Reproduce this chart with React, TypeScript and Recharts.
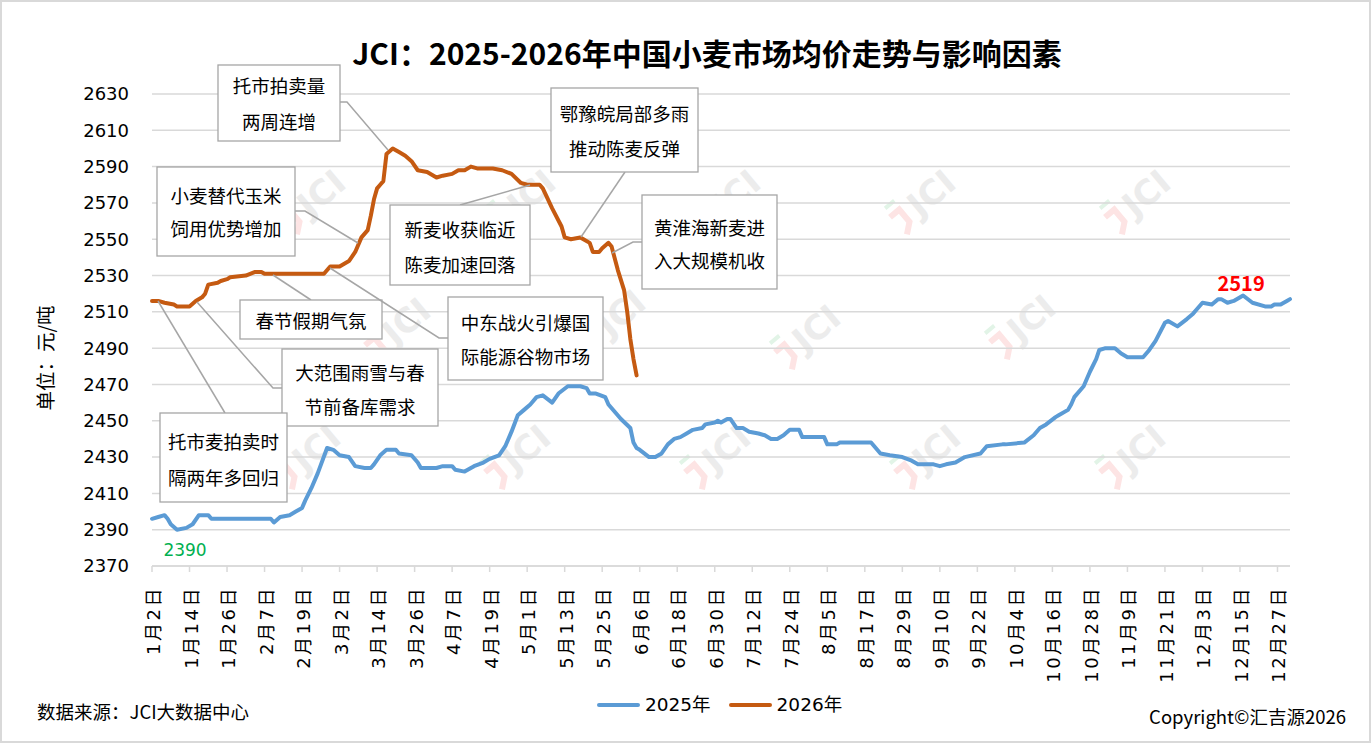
import React from 'react';
import { LineChart, Line, XAxis, YAxis, CartesianGrid, LabelList } from 'recharts';

document.body.style.margin = '0';

// 日期轴按闰年排布（含2月29日），1月2日为起点
const AXIS_YEAR = 2024;

const dates2025 = [
  '1-2', '1-4', '1-6', '1-7', '1-8', '1-10', '1-13', '1-15', '1-17', '1-20', '1-21',
  '2-9', '2-10', '2-12', '2-15', '2-17', '2-19', '2-20', '2-22', '2-24', '2-27', '2-29',
  '3-2', '3-5', '3-7', '3-10', '3-12', '3-13', '3-15', '3-17', '3-20', '3-21', '3-25', '3-27', '3-28',
  '4-2', '4-4', '4-7', '4-8', '4-11', '4-14', '4-17', '4-19', '4-22', '4-24', '4-26', '4-28', '4-30',
  '5-2', '5-4', '5-6', '5-9', '5-11', '5-14', '5-18', '5-20', '5-21', '5-23', '5-26', '5-27', '5-29', '5-31',
  '6-3', '6-4', '6-5', '6-6', '6-9', '6-11', '6-13', '6-15', '6-17', '6-19', '6-21', '6-23', '6-26', '6-27', '6-30',
  '7-1', '7-2', '7-4', '7-5', '7-7', '7-9', '7-11', '7-14', '7-16', '7-18', '7-20', '7-22', '7-24', '7-27', '7-28',
  '8-4', '8-5', '8-8', '8-9', '8-19', '8-22', '8-25', '8-29',
  '9-1', '9-3', '9-8', '9-10', '9-12', '9-15', '9-18', '9-23', '9-25', '9-30',
  '10-1', '10-7', '10-10', '10-12', '10-14', '10-17', '10-18', '10-21', '10-22', '10-23', '10-26', '10-28', '10-30', '10-31',
  '11-2', '11-5', '11-7', '11-9', '11-14', '11-16', '11-18', '11-21', '11-22', '11-25', '11-28', '11-30',
  '12-1', '12-3', '12-6', '12-8', '12-9', '12-11', '12-13', '12-16', '12-19', '12-23', '12-25', '12-26', '12-28', '12-30', '12-31',
];
const prices2025 = [
  2396, 2397, 2398, 2396, 2393, 2390, 2391, 2393, 2398, 2398, 2396,
  2396, 2394, 2397, 2398, 2400, 2402, 2406, 2413, 2421, 2435, 2434,
  2431, 2430, 2425, 2424, 2424, 2426, 2431, 2434, 2434, 2432, 2431, 2427, 2424,
  2424, 2425, 2425, 2423, 2422, 2425, 2427, 2429, 2431, 2436, 2444, 2453, 2456,
  2459, 2463, 2464, 2460, 2465, 2469, 2469, 2468, 2465, 2465, 2463, 2459, 2455, 2451,
  2446, 2438, 2435, 2434, 2430, 2430, 2432, 2437, 2440, 2441, 2443, 2445, 2446, 2448, 2449,
  2450, 2449, 2451, 2451, 2446, 2446, 2444, 2443, 2442, 2440, 2440, 2442, 2445, 2445, 2441,
  2441, 2437, 2437, 2438, 2438, 2432, 2431, 2430,
  2428, 2426, 2426, 2425, 2426, 2427, 2430, 2432, 2436, 2437,
  2437, 2438, 2442, 2446, 2448, 2452, 2453, 2456, 2459, 2463, 2469, 2477, 2484, 2489,
  2490, 2490, 2487, 2485, 2485, 2489, 2494, 2504, 2505, 2502, 2506, 2509,
  2511, 2515, 2514, 2517, 2517, 2515, 2516, 2519, 2515, 2513, 2513, 2514, 2514, 2516, 2517,
];

const dates2026 = [
  '1-2', '1-4', '1-6', '1-9', '1-10', '1-14', '1-16', '1-18', '1-19', '1-20', '1-23', '1-24', '1-26', '1-27',
  '2-1', '2-4', '2-6', '2-7', '2-26', '2-28',
  '3-2', '3-5', '3-7', '3-9', '3-11', '3-12', '3-13', '3-14', '3-15', '3-16', '3-17', '3-19', '3-21', '3-23', '3-25', '3-27', '3-30',
  '4-2', '4-4', '4-7', '4-9', '4-11', '4-13', '4-15', '4-20', '4-23', '4-26', '4-29',
  '5-1', '5-5', '5-6', '5-9', '5-12', '5-13', '5-15', '5-18', '5-19', '5-21', '5-22', '5-24', '5-25', '5-27', '5-28', '5-30',
  '6-1', '6-2', '6-3', '6-4', '6-5',
];
const prices2026 = [
  2516, 2516, 2515, 2514, 2513, 2513, 2516, 2518, 2520, 2525, 2526, 2527, 2528, 2529,
  2530, 2532, 2532, 2531, 2531, 2535,
  2535, 2538, 2543, 2551, 2555, 2563, 2572, 2578, 2580, 2582, 2597, 2600, 2598, 2596, 2593, 2588, 2587,
  2584, 2585, 2586, 2588, 2588, 2590, 2589, 2589, 2588, 2586, 2581,
  2580, 2580, 2578, 2567, 2557, 2551, 2550, 2551, 2550, 2548, 2543, 2543, 2545, 2548, 2546, 2533,
  2522, 2510, 2495, 2484, 2475,
];

const tickLabels = [
  '1月2日', '1月14日', '1月26日', '2月7日', '2月19日', '3月2日', '3月14日', '3月26日',
  '4月7日', '4月19日', '5月1日', '5月13日', '5月25日', '6月6日', '6月18日', '6月30日',
  '7月12日', '7月24日', '8月5日', '8月17日', '8月29日', '9月10日', '9月22日', '10月4日',
  '10月16日', '10月28日', '11月9日', '11月21日', '12月3日', '12月15日', '12月27日',
];
const yTicks = [2370, 2390, 2410, 2430, 2450, 2470, 2490, 2510, 2530, 2550, 2570, 2590, 2610, 2630];

const COLORS = {
  y2025: '#5b9bd5',
  y2026: '#c55a11',
  grid: '#d9d9d9',
  leader: '#a6a6a6',
  text: '#000000',
};

const CJK = '"Noto Sans CJK SC", sans-serif';
const NUM = '"DejaVu Sans", "Noto Sans CJK SC", sans-serif';

const toDay = (m: number, d: number) =>
  (Date.UTC(AXIS_YEAR, m - 1, d) - Date.UTC(AXIS_YEAR, 0, 2)) / 86400000;

const parseDash = (s: string) => {
  const [m, d] = s.split('-').map(Number);
  return toDay(m, d);
};

const tickDays = tickLabels.map((l) => {
  const m = l.match(/(\d+)月(\d+)日/)!;
  return toDay(Number(m[1]), Number(m[2]));
});

const series2025 = dates2025.map((d, i) => ({ day: parseDash(d), price: prices2025[i] }));
const series2026 = dates2026.map((d, i) => ({ day: parseDash(d), price: prices2026[i] }));

const maxPrice = Math.max(...prices2025);
const minPrice = Math.min(...prices2025);

const legendItems = [
  { name: '2025年', color: COLORS.y2025 },
  { name: '2026年', color: COLORS.y2026 },
];

// 注释框：位置为画布像素
const notes = [
  { x: 218, y: 65, w: 122, h: 76, lines: ['托市拍卖量', '两周连增'], ty: [85, 121], leader: [[340, 102], [347, 102], [388, 150]] },
  { x: 157, y: 167, w: 138, h: 89, lines: ['小麦替代玉米', '饲用优势增加'], ty: [195, 228], leader: [[295, 211], [305, 211], [358, 243]] },
  { x: 240, y: 300, w: 142, h: 39, lines: ['春节假期气氛'], ty: [320], leader: [[311, 300], [273, 275]] },
  { x: 390, y: 205, w: 140, h: 80, lines: ['新麦收获临近', '陈麦加速回落'], ty: [229, 264], leader: [[460, 205], [530, 185]] },
  { x: 448, y: 297, w: 155, h: 83, lines: ['中东战火引爆国', '际能源谷物市场'], ty: [322, 356], leader: [[448, 338], [439, 338], [330, 268]] },
  { x: 551, y: 88, w: 147, h: 84, lines: ['鄂豫皖局部多雨', '推动陈麦反弹'], ty: [113, 148], leader: [[625, 172], [581, 237]] },
  { x: 642, y: 195, w: 135, h: 94, lines: ['黄淮海新麦进', '入大规模机收'], ty: [227, 260], leader: [[642, 242], [633, 242], [612, 253]] },
  { x: 282, y: 349, w: 156, h: 77, lines: ['大范围雨雪与春', '节前备库需求'], ty: [372, 406], leader: [[282, 388], [273, 388], [197, 302]] },
  { x: 160, y: 413, w: 127, h: 89, lines: ['托市麦拍卖时', '隔两年多回归'], ty: [441, 477], leader: [[225, 413], [158, 301]] },
];

const watermarks = [
  [325, 190], [535, 190], [740, 190], [935, 190], [1150, 190],
  [410, 318], [625, 310], [820, 325], [1035, 315],
  [320, 445], [530, 445], [730, 445], [940, 445], [1145, 445],
];

const XTick = (props: any) => {
  const { x, y, payload } = props;
  const idx = tickDays.indexOf(payload.value);
  const ty = y + 12;
  return (
    <text
      x={x + 1.5}
      y={ty}
      transform={`rotate(-90, ${x + 1.5}, ${ty})`}
      textAnchor="end"
      dominantBaseline="central"
      fill={COLORS.text}
      fontSize={18}
      fontFamily={NUM}
      letterSpacing={2.5}
    >
      {idx >= 0 ? tickLabels[idx] : ''}
    </text>
  );
};

const ExtremeLabel = (props: any) => {
  const { x, y, value } = props;
  if (value === maxPrice) {
    return (
      <text x={x - 2} y={y - 13} textAnchor="middle" dominantBaseline="central"
        fill="#ff0000" fontWeight="bold" fontSize={20} fontFamily={CJK}>
        {value}
      </text>
    );
  }
  if (value === minPrice) {
    return (
      <text x={x + 8} y={y + 20} textAnchor="middle" dominantBaseline="central"
        fill="#00b050" fontSize={17} fontFamily={NUM}>
        {value}
      </text>
    );
  }
  return null;
};

const Watermark = ({ cx, cy }: { cx: number; cy: number }) => (
  <g transform={`translate(${cx}, ${cy}) rotate(-40)`}>
    <path d="M -52 -8 L -40 -8 L -40 8 L -50 16" stroke="#fde4e4" strokeWidth={6} fill="none" />
    <path d="M -50 -18 L -38 -18" stroke="#e2f4e7" strokeWidth={4} />
    <text x={-30} y={0} fontSize={34} fontWeight="bold" fill="#ececec"
      dominantBaseline="central" fontFamily='"DejaVu Sans", sans-serif'>
      JCI
    </text>
  </g>
);

const App = () => {
  return (
    <div style={{ position: 'relative', width: 1371, height: 743, background: '#fff', overflow: 'hidden' }}>
      <svg width={1371} height={743} style={{ position: 'absolute', left: 0, top: 0 }}>
        {watermarks.map(([cx, cy], i) => (
          <Watermark key={`wm-${i}`} cx={cx} cy={cy} />
        ))}
      </svg>

      <div style={{ position: 'absolute', left: 0, top: 0 }}>
        <LineChart width={1371} height={743} margin={{ top: 94, right: 81, bottom: 77, left: 0 }}>
          <CartesianGrid vertical={false} stroke={COLORS.grid} strokeWidth={1.5} />
          <XAxis
            type="number"
            dataKey="day"
            domain={[0, 364]}
            ticks={tickDays}
            interval={0}
            height={100}
            tick={<XTick />}
            tickSize={6}
            tickLine={{ stroke: COLORS.grid, strokeWidth: 1.5 }}
            axisLine={{ stroke: COLORS.grid, strokeWidth: 1.5 }}
          />
          <YAxis
            type="number"
            domain={[2370, 2630]}
            ticks={yTicks}
            interval={0}
            width={152}
            axisLine={false}
            tickLine={false}
            tickSize={0}
            tickMargin={23}
            tick={{ fill: COLORS.text, fontSize: 18, fontFamily: NUM }}
          />
          <Line
            data={series2025}
            dataKey="price"
            name="2025年"
            type="linear"
            stroke={COLORS.y2025}
            strokeWidth={4}
            strokeLinejoin="round"
            strokeLinecap="round"
            dot={false}
            activeDot={false}
            isAnimationActive={false}
          >
            <LabelList dataKey="price" content={ExtremeLabel} />
          </Line>
          <Line
            data={series2026}
            dataKey="price"
            name="2026年"
            type="linear"
            stroke={COLORS.y2026}
            strokeWidth={4}
            strokeLinejoin="round"
            strokeLinecap="round"
            dot={false}
            activeDot={false}
            isAnimationActive={false}
          />
        </LineChart>
      </div>

      <svg width={1371} height={743} style={{ position: 'absolute', left: 0, top: 0, pointerEvents: 'none' }}>
        <text x={707} y={52} textAnchor="middle" dominantBaseline="central" fontSize={30}
          fontWeight="bold" fontFamily={CJK} fill={COLORS.text}>
          JCI：2025-2026年中国小麦市场均价走势与影响因素
        </text>

        <text x={44} y={358} transform="rotate(-90, 44, 358)" textAnchor="middle"
          dominantBaseline="central" fontSize={19.5} fontFamily={CJK} fill={COLORS.text}>
          单位：元/吨
        </text>

        {notes.map((n, i) => (
          <g key={`note-${i}`}>
            <polyline
              points={n.leader.map((p) => p.join(',')).join(' ')}
              fill="none"
              stroke={COLORS.leader}
              strokeWidth={1.5}
            />
            <rect x={n.x} y={n.y} width={n.w} height={n.h} fill="#fff" stroke={COLORS.leader} strokeWidth={1.3} />
            {n.lines.map((line, j) => (
              <text key={j} x={n.x + n.w / 2} y={n.ty[j]} textAnchor="middle" dominantBaseline="central"
                fontSize={18.5} fontFamily={CJK} fill={COLORS.text}>
                {line}
              </text>
            ))}
          </g>
        ))}

        <text x={37} y={711} dominantBaseline="central" fontSize={18.5} fontFamily={CJK} fill={COLORS.text}>
          数据来源：JCI大数据中心
        </text>
        <text x={1346} y={716} textAnchor="end" dominantBaseline="central" fontSize={18.5} fontFamily={CJK} fill={COLORS.text}>
          Copyright©汇吉源2026
        </text>
      </svg>

      <div style={{ position: 'absolute', left: 597, top: 692, display: 'flex', alignItems: 'center', gap: 18 }}>
        {legendItems.map((item) => (
          <div key={item.name} style={{ display: 'flex', alignItems: 'center' }}>
            <div style={{ width: 43, height: 4, background: item.color, borderRadius: 2, marginRight: 5 }} />
            <span style={{ fontSize: 18.5, fontFamily: NUM, color: COLORS.text, lineHeight: '26px' }}>{item.name}</span>
          </div>
        ))}
      </div>

      <div style={{ position: 'absolute', left: 0, top: 0, width: 1371, height: 743, boxSizing: 'border-box', border: '2px solid #d9d9d9', pointerEvents: 'none' }} />
    </div>
  );
};

export default App;
